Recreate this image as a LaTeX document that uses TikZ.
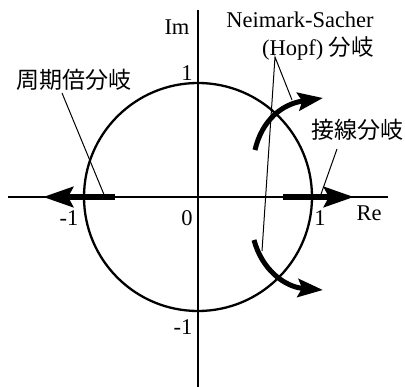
\documentclass[tikz,border=0pt]{standalone}
\usepackage{fontspec}
\setmainfont{Liberation Serif}
\newfontfamily\cjk{Noto Sans CJK JP}
\usetikzlibrary{arrows.meta}
\begin{document}
\begin{tikzpicture}[x=1pt,y=-1pt,
  lbl/.style={font=\fontsize{22.5}{24}\selectfont, inner sep=0pt},
  jlbl/.style={font=\fontsize{23}{24}\selectfont\cjk, inner sep=0pt},
  axisline/.style={line width=2.3pt},
  leader/.style={line width=1pt},
  bigarrow/.style={line width=6.5pt, -{Stealth[length=30pt,width=20pt,inset=5pt]}},
  curvearrow/.style={line width=5pt, -{Stealth[length=25pt,width=18pt,inset=4pt]}}]
\useasboundingbox (0,0) rectangle (405,387);
% axes
\coordinate (O) at (198,197);
\coordinate (xl) at (8,197);
\coordinate (xr) at (388,197);
\coordinate (yt) at (198,10);
\coordinate (yb) at (198,387);
\draw[axisline] (xl) -- (xr);
\draw[axisline] (yt) -- (yb);
% unit circle
\draw[line width=2.3pt] (O) circle[radius=114];
% axis labels
\node[lbl] (im) at (177,27) {Im};
\node[lbl] (re) at (369,213) {Re};
\node[lbl] (one) at (187,73) {1};
\node[lbl] (zero) at (187,218) {0};
\node[lbl] (mone) at (69,218) {-1};
\node[lbl] (rone) at (320,218) {1};
\node[lbl] (mbot) at (183,327) {-1};
% horizontal thick arrows
\coordinate (las) at (115,197);
\coordinate (lat) at (43,197);
\coordinate (ras) at (283,197);
\coordinate (rat) at (354,197);
\draw[bigarrow] (las) -- (lat);
\draw[bigarrow] (ras) -- (rat);
% curved arrows
\coordinate (us) at (255,150);
\coordinate (ut) at (323,98);
\coordinate (ds) at (254,240);
\coordinate (dt) at (323,290);
\draw[curvearrow] (us) .. controls (262,120) and (282,104) .. (ut);
\draw[curvearrow] (ds) .. controls (262,270) and (285,287) .. (dt);
% labels
\node[jlbl] (pd) at (74,80) {周期倍分岐};
\node[jlbl] (tb) at (357,130) {接線分岐};
\node[lbl] (ns1) at (300,20) {Neimark-Sacher};
\node[lbl] (ns2) at (318,48) {(Hopf) {\cjk 分岐}};
% leaders
\coordinate (pdl) at (62,93);
\coordinate (pde) at (105,197);
\draw[leader] (pdl) -- (pde);
\coordinate (tbl) at (337,149);
\coordinate (tbe) at (320,197);
\draw[leader] (tbl) -- (tbe);
\coordinate (apex) at (275,57);
\coordinate (nsu) at (292,100);
\coordinate (nsd) at (262,251);
\draw[leader] (nsu) -- (apex) -- (nsd);
\end{tikzpicture}
\end{document}
